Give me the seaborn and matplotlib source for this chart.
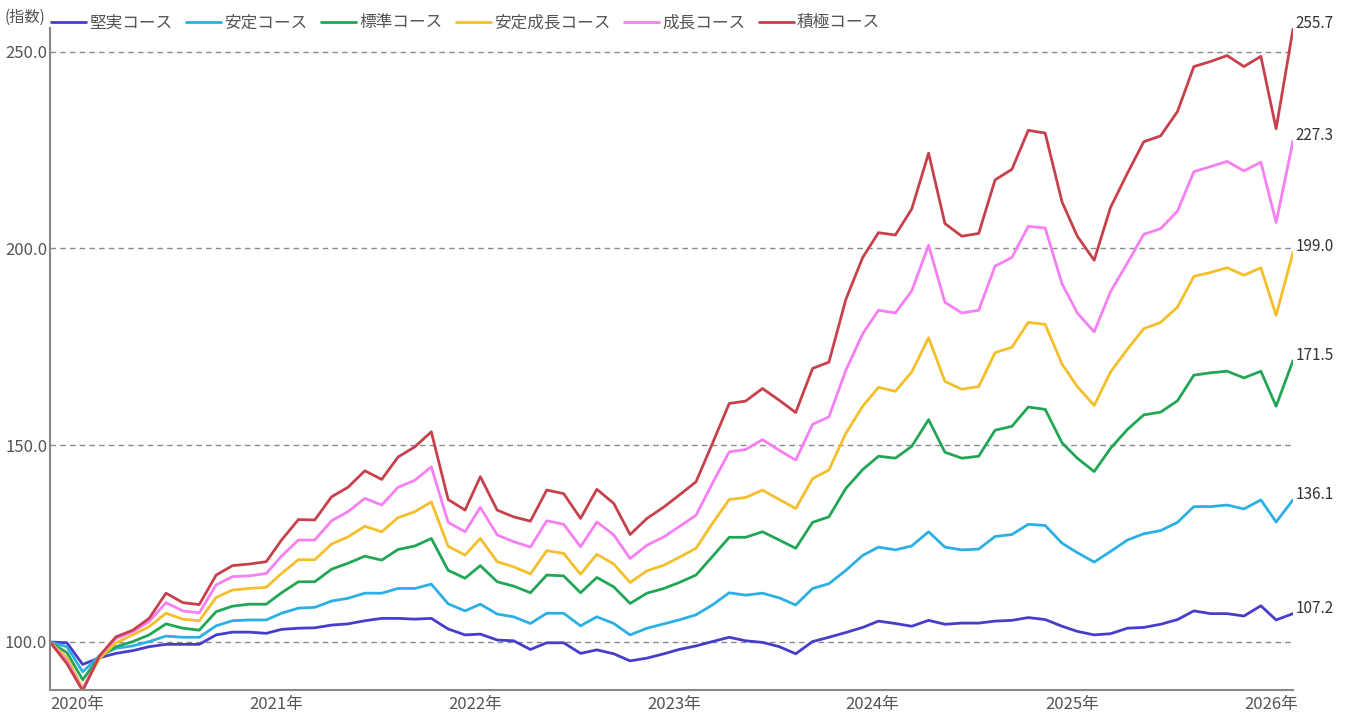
import matplotlib
matplotlib.use("Agg")
import matplotlib.pyplot as plt
import seaborn as sns
import pandas as pd

# Monthly index values, Jan 2020 - Apr 2026 (start = 100)
dates = pd.date_range("2020-01-01", periods=76, freq="MS")

courses = ["堅実コース", "安定コース", "標準コース", "安定成長コース", "成長コース", "積極コース"]

kenjitsu = [100, 99.8, 94.3, 96.0, 97.1, 97.8, 98.8, 99.4, 99.4, 99.4, 101.8, 102.5,
            102.5, 102.2, 103.2, 103.5, 103.6, 104.3, 104.6, 105.4, 106.0, 106.0, 105.8, 106.0,
            103.3, 101.8, 102.0, 100.5, 100.3, 98.1, 99.8, 99.8, 97.1, 98.0, 97.0, 95.2,
            95.9, 97.0, 98.1, 99.0, 100.1, 101.2, 100.3, 99.9, 98.8, 97.0, 100.1, 101.2,
            102.4, 103.7, 105.3, 104.7, 104.0, 105.5, 104.5, 104.8, 104.8, 105.3, 105.5, 106.2,
            105.7, 104.0, 102.7, 101.8, 102.1, 103.5, 103.7, 104.5, 105.7, 107.9, 107.2, 107.2,
            106.6, 109.2, 105.6, 107.2]

antei = [100, 98.8, 92.4, 96.5, 98.4, 99.0, 100.1, 101.5, 101.2, 101.2, 104.1, 105.4,
         105.6, 105.6, 107.3, 108.6, 108.8, 110.4, 111.1, 112.4, 112.4, 113.6, 113.6, 114.7,
         109.7, 107.9, 109.6, 107.1, 106.4, 104.7, 107.3, 107.3, 104.1, 106.4, 104.7, 101.8,
         103.5, 104.6, 105.6, 106.9, 109.4, 112.5, 111.9, 112.4, 111.2, 109.4, 113.6, 114.8,
         118.2, 122.0, 124.1, 123.4, 124.4, 128.0, 124.1, 123.4, 123.6, 126.8, 127.3, 129.9,
         129.6, 125.1, 122.7, 120.3, 123.0, 125.9, 127.5, 128.3, 130.4, 134.4, 134.4, 134.8,
         133.8, 136.1, 130.5, 136.1]

hyojun = [100, 97.3, 90.4, 96.3, 98.8, 100.1, 101.8, 104.6, 103.5, 103.0, 107.7, 109.1,
          109.6, 109.6, 112.5, 115.3, 115.3, 118.5, 120.0, 121.8, 120.8, 123.5, 124.4, 126.3,
          118.2, 116.2, 119.4, 115.3, 114.2, 112.5, 117.0, 116.8, 112.5, 116.4, 114.0, 109.8,
          112.4, 113.6, 115.1, 117.0, 121.7, 126.6, 126.6, 128.0, 125.9, 123.8, 130.4, 131.8,
          139.0, 143.8, 147.2, 146.7, 149.7, 156.5, 148.2, 146.7, 147.2, 153.8, 154.8, 159.7,
          159.1, 150.6, 146.7, 143.3, 149.2, 154.0, 157.7, 158.4, 161.3, 167.8, 168.4, 168.8,
          167.1, 168.8, 159.9, 171.5]

antei_seicho = [100, 96.0, 88.2, 95.8, 99.8, 101.8, 103.9, 107.3, 105.8, 105.4, 111.3, 113.2,
                113.6, 113.9, 117.4, 120.9, 120.9, 124.9, 126.7, 129.4, 128.0, 131.6, 133.1, 135.6,
                124.3, 122.1, 126.3, 120.4, 119.1, 117.3, 123.2, 122.5, 117.2, 122.3, 119.8, 115.1,
                118.1, 119.5, 121.5, 123.8, 130.1, 136.2, 136.7, 138.6, 136.2, 133.9, 141.5, 143.7,
                153.0, 159.9, 164.7, 163.7, 168.6, 177.3, 166.2, 164.2, 164.9, 173.5, 174.9, 181.2,
                180.7, 170.6, 164.9, 160.1, 168.6, 174.4, 179.6, 181.2, 185.1, 192.9, 193.9, 195.1,
                193.2, 195.1, 183.0, 199.0]

seicho = [100, 95.0, 87.9, 96.5, 100.9, 102.6, 105.2, 110.0, 107.9, 107.4, 114.5, 116.6,
          116.8, 117.4, 121.8, 125.9, 125.9, 130.8, 133.1, 136.5, 134.8, 139.3, 141.1, 144.5,
          130.4, 128.0, 134.2, 127.2, 125.5, 124.1, 130.8, 129.9, 124.2, 130.5, 127.2, 121.2,
          124.6, 126.7, 129.3, 132.2, 140.3, 148.3, 148.9, 151.4, 148.7, 146.2, 155.3, 157.2,
          169.0, 178.3, 184.3, 183.6, 189.2, 200.8, 186.3, 183.6, 184.3, 195.5, 197.7, 205.6,
          205.2, 191.0, 183.6, 178.8, 189.0, 196.3, 203.6, 205.0, 209.5, 219.5, 220.8, 222.1,
          219.7, 221.9, 206.6, 227.3]

sekkyoku = [100, 94.5, 87.6, 96.5, 101.3, 103.0, 106.0, 112.4, 110.0, 109.5, 117.0, 119.4,
            119.8, 120.4, 125.9, 131.1, 131.0, 136.9, 139.3, 143.5, 141.3, 147.0, 149.6, 153.4,
            136.2, 133.5, 142.0, 133.5, 131.8, 130.7, 138.6, 137.7, 131.4, 138.8, 135.2, 127.3,
            131.4, 134.3, 137.3, 140.7, 150.4, 160.6, 161.2, 164.4, 161.4, 158.3, 169.5, 171.1,
            187.0, 197.7, 204.0, 203.4, 210.0, 224.2, 206.3, 203.1, 203.8, 217.4, 220.1, 230.0,
            229.3, 211.8, 203.1, 197.0, 210.4, 219.1, 227.1, 228.6, 234.8, 246.2, 247.5, 249.0,
            246.2, 248.8, 230.4, 255.7]

series = [kenjitsu, antei, hyojun, antei_seicho, seicho, sekkyoku]
colors = ["#473dca", "#2bb0e6", "#21a656", "#f5bf2a", "#f67ff3", "#c7414c"]

df = pd.concat([pd.DataFrame({"date": dates, "value": v, "course": c})
                for c, v in zip(courses, series)])

sns.set_theme(style="white")
plt.rcParams["font.family"] = ["Noto Sans CJK JP", "DejaVu Sans"]

fig = plt.figure(figsize=(13.47, 7.16), dpi=100)
ax = fig.add_axes([50 / 1347, 26 / 716, 1243 / 1347, 662 / 716])

sns.lineplot(data=df, x="date", y="value", hue="course", hue_order=courses,
             palette=colors, linewidth=2.0, ax=ax, legend=False)

ax.set_xlim(dates[0], dates[-1])
ax.set_ylim(87.8, 256)
ax.set_xlabel("")
ax.set_ylabel("")

# dashed horizontal grid
yticks = [100, 150, 200, 250]
ax.set_yticks(yticks)
ax.set_yticklabels([f"{t:.1f}" for t in yticks])
for t in yticks:
    ax.axhline(t, color="#8a8a8a", lw=1.0, ls=(0, (4, 3)), zorder=0)

years = pd.date_range("2020-01-01", "2026-01-01", freq="YS")
ax.set_xticks(years)
ax.set_xticklabels([f"{d.year}年" for d in years], ha="left")
ax.tick_params(axis="x", direction="in", length=10, width=1, color="#888888",
               labelsize=12, labelcolor="#555555", pad=4)
ax.tick_params(axis="y", length=0, labelsize=12, labelcolor="#555555", pad=2)

for s in ["top", "right"]:
    ax.spines[s].set_visible(False)
for s in ["left", "bottom"]:
    ax.spines[s].set_color("#888888")
    ax.spines[s].set_linewidth(1.5)

# end-of-line labels
for c, v in zip(courses, series):
    ax.annotate(f"{v[-1]:.1f}", (dates[-1], v[-1]), xytext=(2, 4),
                textcoords="offset points", ha="left", va="center",
                fontsize=11, color="#333333", annotation_clip=False)

# legend
fig.text(5 / 1347, 1 - 17 / 716, "(指数)", fontsize=11, color="#555555",
         ha="left", va="center")
fig.legend(ax.lines[:6], courses, loc="upper left",
           bbox_to_anchor=(43 / 1347, 1 - 6 / 716), ncol=6, frameon=False,
           fontsize=12, handlelength=2.1, handletextpad=0.2, columnspacing=0.8,
           borderpad=0, labelcolor="#555555")

fig.savefig("out.png", dpi=100)
